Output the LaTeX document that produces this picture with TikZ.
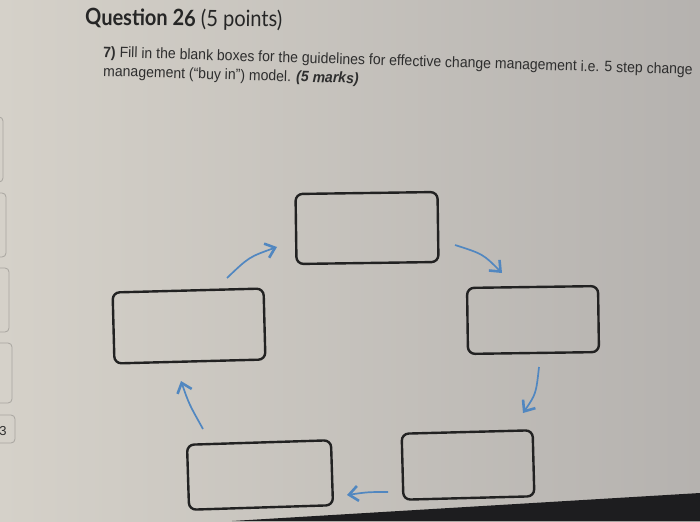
\documentclass[tikz,border=0pt]{standalone}
\usepackage{fontspec}
\setmainfont{Liberation Sans}
\newfontfamily\latofont{Lato}
\usetikzlibrary{arrows.meta}
\definecolor{bgL}{HTML}{D5D1C9}
\definecolor{bgM}{HTML}{D4D1CB}
\definecolor{bgR}{HTML}{B5B2AF}
\definecolor{boxline}{HTML}{222222}
\definecolor{arrowblue}{HTML}{5187C0}
\definecolor{tabline}{HTML}{A8A5A0}
\definecolor{bezel}{HTML}{1D1D1F}
\definecolor{bodytext}{HTML}{2E2E2E}
\tikzset{
  blankbox/.style={draw=boxline, line width=2.4pt, rounded corners=7pt, inner sep=0pt, fill=none},
  flowarrow/.style={draw=arrowblue, line width=1.7pt, -{Straight Barb[length=9pt,width=15pt,line width=2.6pt]}},
  tab/.style={draw=tabline, line width=0.8pt, rounded corners=4pt},
}
\begin{document}
\begin{tikzpicture}[x=1pt,y=-1pt]
\useasboundingbox (0,0) rectangle (700,521);
\clip (0,0) rectangle (700,521);
% background
\shade[left color=bgL, middle color=bgM, right color=bgR] (0,0) rectangle (700,521);
% screen bezel at bottom
\fill[bezel] (232,521) -- (700,493) -- (700,521) -- cycle;
% partial tabs at left edge
\draw[tab] (-20,117) rectangle (3,182);
\draw[tab] (-20,193) rectangle (6,257);
\draw[tab] (-20,268) rectangle (9,332);
\draw[tab] (-20,343) rectangle (12,403);
\draw[tab] (-20,415) rectangle (15,443);
\node[font=\fontsize{13}{15}\selectfont, text=bodytext, anchor=base, inner sep=0pt] (tabnum) at (3,435) {3};
% title and question
\node[anchor=base west, inner sep=0pt, font=\latofont\fontsize{22.5}{26}\selectfont, text=black!85, rotate=-0.6] (title) at (85,25) {\scalebox{0.89}[1]{\textbf{Question 26} (5 points)}};
\node[anchor=base west, inner sep=0pt, font=\fontsize{15}{18}\selectfont, text=bodytext, rotate=-1.7] (line1) at (103,57) {\scalebox{0.935}[1]{\textbf{7)} Fill in the blank boxes for the guidelines for effective change management i.e. 5 step change}};
\node[anchor=base west, inner sep=0pt, font=\fontsize{15}{18}\selectfont, text=bodytext, rotate=-1.7] (line2) at (103,76) {\scalebox{0.935}[1]{management (``buy in'') model. \textbf{\itshape (5 marks)}}};
% boxes
\node[blankbox, minimum width=142pt, minimum height=70pt, rotate=0.8] (top) at (367,228) {};
\node[blankbox, minimum width=151pt, minimum height=71pt, rotate=1.5] (left) at (189,326) {};
\node[blankbox, minimum width=131pt, minimum height=66pt, rotate=0.8] (right) at (533,320) {};
\node[blankbox, minimum width=144pt, minimum height=65pt, rotate=1.8] (botleft) at (260,475) {};
\node[blankbox, minimum width=131pt, minimum height=66pt, rotate=1.5] (botright) at (468,465) {};
% arrow end points
\coordinate (a1s) at (227,278); \coordinate (a1e) at (277,247);
\coordinate (a2s) at (455,245); \coordinate (a2e) at (502,273);
\coordinate (a3s) at (539,367); \coordinate (a3e) at (523,413);
\coordinate (a4s) at (388,492); \coordinate (a4e) at (347,495);
\coordinate (a5s) at (203,429); \coordinate (a5e) at (181,381);
\draw[flowarrow] (a1s) .. controls (249,257) .. (a1e);
\draw[flowarrow] (a2s) .. controls (483,254) .. (a2e);
\draw[flowarrow] (a3s) .. controls (536,394) .. (a3e);
\draw[flowarrow] (a4s) .. controls (368,492) .. (a4e);
\draw[flowarrow] (a5s) .. controls (189,404) .. (a5e);
\end{tikzpicture}
\end{document}
